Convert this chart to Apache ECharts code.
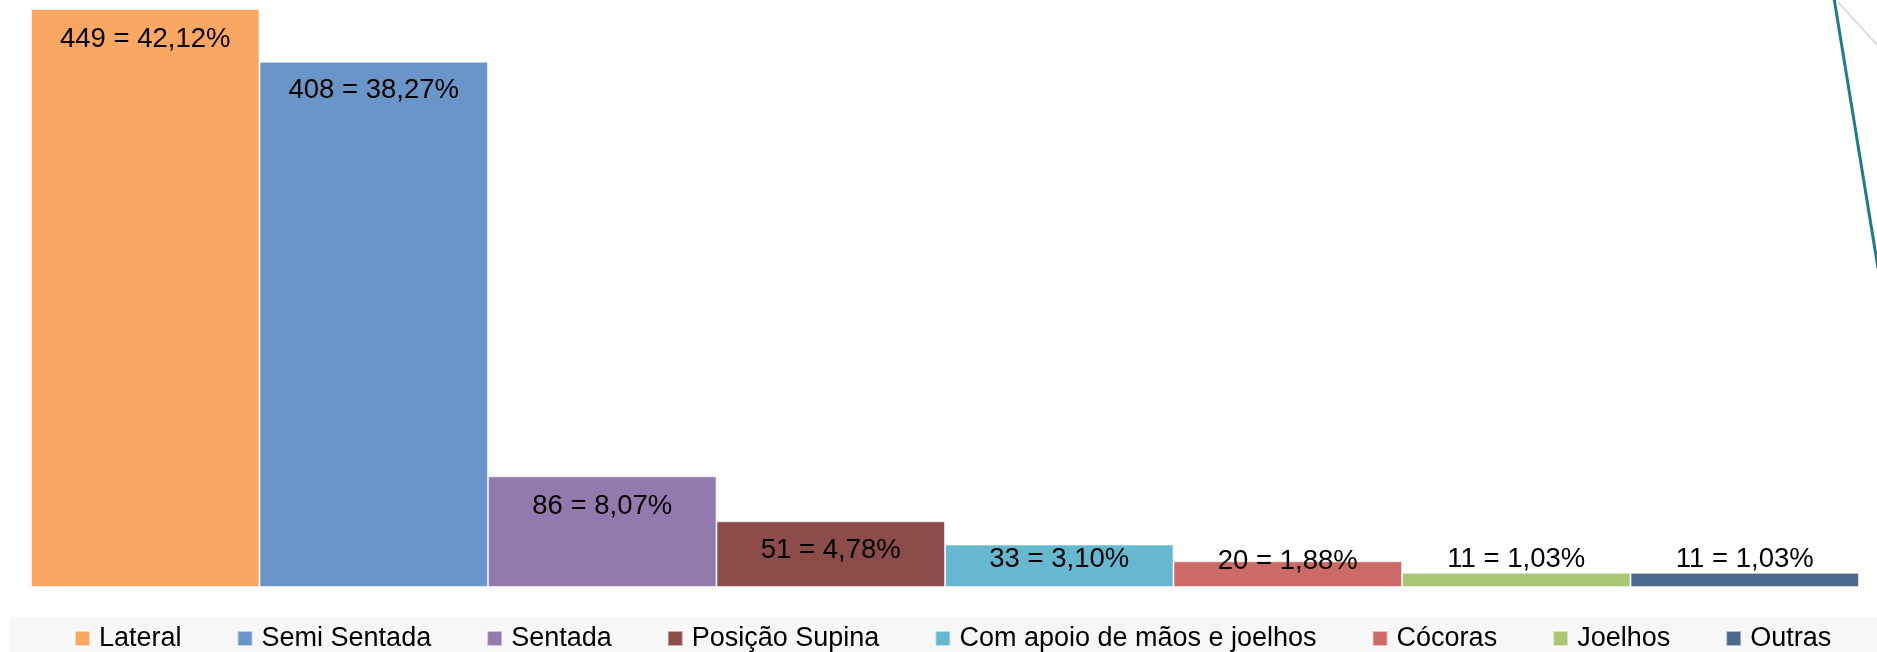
<!DOCTYPE html>
<html>
<head>
<meta charset="utf-8">
<script src="https://cdn.jsdelivr.net/npm/echarts@6/dist/echarts.min.js"></script>
<style>html,body{margin:0;padding:0;background:#fff}#c{width:1877px;height:652px}</style>
</head>
<body>
<div id="c"></div>
<script>
const categories = ['Lateral', 'Semi Sentada', 'Sentada', 'Posição Supina', 'Com apoio de mãos e joelhos', 'Cócoras', 'Joelhos', 'Outras'];
const counts = [449, 408, 86, 51, 33, 20, 11, 11];
const percentLabels = ['42,12%', '38,27%', '8,07%', '4,78%', '3,10%', '1,88%', '1,03%', '1,03%'];

const colors = ['#F9A762', '#6A95C8', '#9479AF', '#8C4C49', '#65B8CF', '#CB6A67', '#AAC574', '#4C6A8E'];
// label placement styles per bar (position, distance)
const labelPlace = [
  ['insideTop', 16], ['insideTop', 15], ['insideTop', 16], ['insideTop', 15],
  ['insideTop', 1], ['top', -14], ['top', -1], ['top', -1]
];

const chart = echarts.init(document.getElementById('c'), null, {renderer: 'canvas'});
const FONT = '"Liberation Sans", Arial, sans-serif';

const series = categories.map((name, i) => ({
  name: name,
  type: 'bar',
  stack: 'all',
  barWidth: '100%',
  data: counts.map((v, j) => (j === i ? v : '-')),
  itemStyle: {color: colors[i], borderColor: 'rgba(255,255,255,0.55)', borderWidth: 1},
  label: {
    show: true,
    position: labelPlace[i][0],
    distance: labelPlace[i][1],
    color: '#000',
    fontFamily: FONT,
    fontSize: 27.5,
    formatter: p => p.value + ' = ' + percentLabels[p.dataIndex]
  },
  emphasis: {disabled: true},
  silent: true
}));

chart.setOption({
  animation: false,
  backgroundColor: '#fff',
  color: colors,
  graphic: [
    {type: 'rect', z: -10, shape: {x: 10, y: 617, width: 1867, height: 35}, style: {fill: '#F7F7F7'}},
    {type: 'line', z: 10, shape: {x1: 1838, y1: 2, x2: 1878, y2: 46}, style: {stroke: '#D4D4D4', lineWidth: 1.5}},
    {type: 'line', z: 10, shape: {x1: 1834, y1: -2, x2: 1878, y2: 268}, style: {stroke: '#1F7D8A', lineWidth: 3}}
  ],
  grid: {left: 31, right: 18, top: 9, bottom: 65, containLabel: false},
  xAxis: {
    type: 'category',
    data: categories,
    show: false
  },
  yAxis: {
    type: 'value',
    min: 0,
    max: 449,
    show: false,
    splitLine: {show: false}
  },
  legend: {
    data: categories,
    left: 69,
    top: 620,
    itemWidth: 15,
    itemHeight: 15,
    itemGap: 55,
    icon: 'rect',
    textStyle: {fontFamily: FONT, fontSize: 27, color: '#000', padding: [0, 0, 0, 4]},
    selectedMode: false
  },
  series: series
});
</script>
</body>
</html>
